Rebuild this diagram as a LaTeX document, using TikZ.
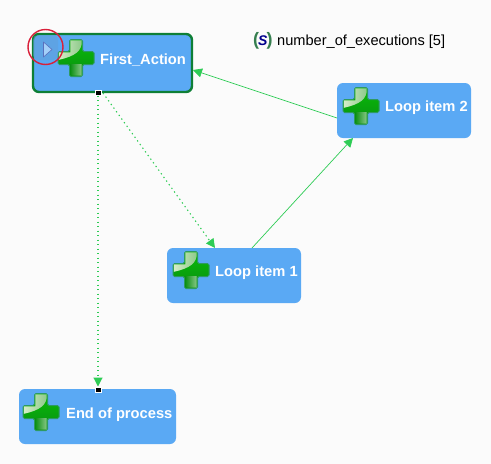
\documentclass[tikz,border=0pt]{standalone}
\usepackage{fontspec}
\setmainfont{Liberation Sans}
\usetikzlibrary{arrows.meta}
\definecolor{bgc}{HTML}{FBFBFB}
\definecolor{boxc}{HTML}{5AA9F4}
\definecolor{edgec}{HTML}{2ECC55}
\definecolor{selc}{HTML}{0E7F36}
\definecolor{crossd}{HTML}{0A8F12}
\definecolor{crossl}{HTML}{08BC08}
\definecolor{crossp}{HTML}{D8EEC8}
\definecolor{crossm}{HTML}{8CC98A}
\definecolor{crossr}{HTML}{2E9A62}
\definecolor{markc}{HTML}{D9203A}
\tikzset{
  x=1pt,y=-1pt,
  box/.style={rectangle,fill=boxc,rounded corners=6pt,inner sep=0pt,outer sep=0pt,anchor=north west},
  lbl/.style={text=white,font=\fontsize{14.7}{16}\selectfont\bfseries,anchor=west,inner sep=0pt},
  link/.style={draw=edgec,line width=0.7pt,-{Triangle[length=9pt,width=9pt]}},
  dotlink/.style={link,line width=1.1pt,dash pattern=on 1.3pt off 3.2pt},
  handle/.style={fill=black,draw=white,line width=0.5pt,minimum size=5.5pt,inner sep=0pt,rectangle},
}
% plus icon centred at (#1,#2)
\newcommand{\plusicon}[2]{%
  \begin{scope}[shift={(#1,#2)}]
    \path[draw=crossr,line width=1pt,rounded corners=1.5pt,
      top color=crossl,bottom color=crossd]
      (-6.5,-18.5) -- (6.5,-18.5) -- (6.5,-6.5) -- (18,-6.5) -- (18,6.5) -- (6.5,6.5)
      -- (6.5,18.5) -- (-6.5,18.5) -- (-6.5,6.5) -- (-18,6.5) -- (-18,-6.5) -- (-6.5,-6.5) -- cycle;
    \begin{scope}
      \clip (-5.7,-17.7) -- (5.7,-17.7) -- (5.7,-5.7) -- (17.2,-5.7) -- (17.2,5.7) -- (5.7,5.7)
      -- (5.7,17.7) -- (-5.7,17.7) -- (-5.7,5.7) -- (-17.2,5.7) -- (-17.2,-5.7) -- (-5.7,-5.7) -- cycle;
      \shade[left color=crossp,right color=crossm] (-18,-18) -- (6,-18) .. controls (6,-7) and (0,-2) .. (-18,2) -- cycle;
      \shade[left color=crossd,right color=crossm] (-6,6) -- (6,6) -- (6,18) -- (-6,18) -- cycle;
    \end{scope}
  \end{scope}}
\begin{document}
\begin{tikzpicture}
\useasboundingbox (0,0) rectangle (491,464);
\fill[bgc] (0,0) rectangle (491,464);

% boxes
\node[box,draw=selc,line width=2.4pt,minimum width=159pt,minimum height=58pt] (fa) at (33,34) {};
\node[box,minimum width=134pt,minimum height=55pt] (l2) at (337,83) {};
\node[box,minimum width=134pt,minimum height=55pt] (l1) at (167,248) {};
\node[box,minimum width=157pt,minimum height=55pt] (ep) at (19,389) {};

% handles
\node[handle] (h1) at (98,92.5) {};
\node[handle] (h2) at (98,389.5) {};

% connector ends
\coordinate (faR) at (193,70);
\coordinate (faS) at (103,93);
\coordinate (l1T) at (215,248);
\coordinate (l1O) at (252,248);
\coordinate (l2B) at (353,138);
\coordinate (l2L) at (337,118);

\draw[dotlink] (h1) -- (h2.north);
\draw[dotlink] (faS) -- (l1T);
\draw[link] (l1O) -- (l2B);
\draw[link] (l2L) -- (faR);

% icons
\plusicon{76}{58}
\plusicon{361}{106}
\plusicon{191}{270}
\plusicon{41}{412}

% labels
\node[lbl] (t1) at (100,60.5) {First\_Action};
\node[lbl] (t2) at (385,108) {Loop item 2};
\node[lbl] (t3) at (215,273) {Loop item 1};
\node[lbl] (t4) at (66,415) {End of process};

% variable
\node[anchor=west,inner sep=0pt,font=\fontsize{14.6}{16}\selectfont] (v) at (277,41.5) {number\_of\_executions [5]};
\node[anchor=west,inner sep=0pt,font=\fontsize{18}{18}\selectfont\bfseries] (vs) at (253,40.5)
  {\textcolor{selc!65!gray}{(}\kern-1pt\textcolor{blue!55!black}{\fontsize{14}{14}\selectfont\itshape S}\kern-1pt\textcolor{selc!65!gray}{)}};

% play marker
\fill[boxc!75!gray,opacity=0.55,rounded corners=5pt] (33,35) rectangle (58,60);
\path[draw=blue!30!gray!70!boxc,fill=boxc!55!white,line width=0.6pt,line join=round]
  (43.5,42) -- (52,49.5) -- (43.5,57) -- cycle;
\node[circle,draw=markc,line width=1.4pt,minimum size=35pt,inner sep=0pt] (mk) at (45.5,47) {};
\end{tikzpicture}
\end{document}
